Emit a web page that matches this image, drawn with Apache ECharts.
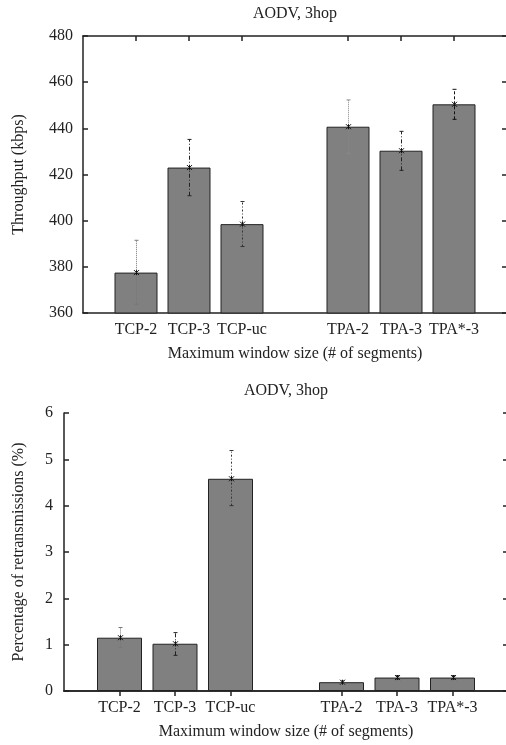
<!DOCTYPE html>
<html>
<head>
<meta charset="utf-8">
<script src="https://cdn.jsdelivr.net/npm/echarts@6/dist/echarts.min.js"></script>
<style>
html, body { margin: 0; padding: 0; background: #fff; }
#chart { width: 506px; height: 745px; }
</style>
</head>
<body>
<div id="chart"></div>
<script>
// bar labels, two groups of three
const labels = ['TCP-2', 'TCP-3', 'TCP-uc', 'TPA-2', 'TPA-3', 'TPA*-3']
// throughput (kbps) with error range
const throughput = [377.5, 423.0, 398.5, 440.7, 430.3, 450.4]
const throughputLow = [363.8, 410.8, 388.8, 429.2, 421.8, 443.9]
const throughputHigh = [391.5, 435.2, 408.3, 452.3, 438.7, 456.9]
// retransmissions (%) with error range
const retrans = [1.15, 1.02, 4.58, 0.19, 0.29, 0.29]
const retransLow = [0.94, 0.77, 4.00, 0.16, 0.26, 0.26]
const retransHigh = [1.37, 1.26, 5.19, 0.22, 0.33, 0.33]
// y tick labels
const throughputTicks = [360, 380, 400, 420, 440, 460, 480]
const retransTicks = [0, 1, 2, 3, 4, 5, 6]

const groupSize = 3
// put an empty slot at both ends and between the groups
function toSlots (arr, blank) {
  let out = [blank]
  arr.forEach((v, i) => {
    if (i === groupSize) out.push(blank)
    out.push(v)
  })
  out.push(blank)
  return out
}
const slotIndex = i => i + 1 + (i >= groupSize ? 1 : 0)
const categories = toSlots(labels, '')

// gnuplot-ish line types for the error bars
const errStyles = [
  { color: '#777', dash: [1, 1] },
  { color: '#222', dash: [4, 2, 1, 2] },
  { color: '#333', dash: [2, 2, 1, 2] },
  { color: '#888', dash: [1, 1] },
  { color: '#222', dash: [4, 2, 1, 2] },
  { color: '#111', dash: [3, 2] }
]

const font = 'Liberation Serif'
const txt = { fontFamily: font, fontSize: 16, color: '#222' }
const lineStyle = { color: '#222', width: 1.5 }

function renderErr (params, api) {
  let x = api.value(0)
  let lo = api.coord([x, api.value(1)])
  let hi = api.coord([x, api.value(2)])
  let mid = api.coord([x, api.value(3)])
  let st = errStyles[api.value(4)]
  let cx = Math.round(lo[0]) + 0.5
  let cap = 2
  let s = 2.5
  let solid = { stroke: st.color, lineWidth: 1 }
  return {
    type: 'group',
    children: [
      { type: 'line', shape: { x1: cx, y1: lo[1], x2: cx, y2: hi[1] },
        style: { stroke: st.color, lineWidth: 1, lineDash: st.dash } },
      { type: 'line', shape: { x1: cx - cap, y1: hi[1], x2: cx + cap, y2: hi[1] }, style: solid },
      { type: 'line', shape: { x1: cx - cap, y1: lo[1], x2: cx + cap, y2: lo[1] }, style: solid },
      { type: 'line', shape: { x1: cx - s, y1: mid[1] - s, x2: cx + s, y2: mid[1] + s }, style: { stroke: '#111', lineWidth: 1 } },
      { type: 'line', shape: { x1: cx - s, y1: mid[1] + s, x2: cx + s, y2: mid[1] - s }, style: { stroke: '#111', lineWidth: 1 } },
      { type: 'line', shape: { x1: cx, y1: mid[1] - s, x2: cx, y2: mid[1] + s }, style: { stroke: '#111', lineWidth: 1 } }
    ]
  }
}

function errData (vals, lows, highs) {
  return vals.map((v, i) => [slotIndex(i), lows[i], highs[i], v, i])
}

function xAxes (gridIndex, title) {
  let tick = { show: true, inside: true, length: 5, lineStyle: lineStyle, interval: (idx, val) => val !== '' }
  return [
    {
      gridIndex: gridIndex, type: 'category', position: 'bottom', data: categories, boundaryGap: false,
      axisLine: { lineStyle: lineStyle }, axisTick: tick,
      axisLabel: Object.assign({ margin: 9, interval: 0 }, txt),
      name: 'Maximum window size (# of segments)', nameLocation: 'middle', nameGap: 33, nameTextStyle: txt
    },
    {
      gridIndex: gridIndex, type: 'category', position: 'top', data: categories, boundaryGap: false,
      axisLine: { lineStyle: lineStyle }, axisTick: tick, axisLabel: { show: false },
      name: title, nameLocation: 'middle', nameGap: 14, nameTextStyle: txt
    }
  ]
}

function yAxes (gridIndex, ticks, name, gap, margin) {
  let base = {
    gridIndex: gridIndex, type: 'value',
    min: ticks[0], max: ticks[ticks.length - 1], interval: ticks[1] - ticks[0],
    axisLine: { show: true, lineStyle: lineStyle },
    axisTick: { show: true, inside: true, length: 5, lineStyle: lineStyle },
    splitLine: { show: false }
  }
  return [
    Object.assign({}, base, {
      position: 'left',
      axisLabel: Object.assign({ margin: margin }, txt),
      name: name, nameLocation: 'middle', nameGap: gap, nameTextStyle: txt
    }),
    Object.assign({}, base, { position: 'right', axisLabel: { show: false } })
  ]
}

let myChart = echarts.init(document.getElementById('chart'))
myChart.setOption({
  animation: false,
  backgroundColor: '#fff',
  textStyle: { fontFamily: font },
  // right border sits just past the canvas edge, as in the original
  grid: [
    { left: 83, top: 36, width: 424, height: 277, containLabel: false, outerBoundsMode: 'none' },
    { left: 64, top: 413, width: 444, height: 278, containLabel: false, outerBoundsMode: 'none' }
  ],
  xAxis: xAxes(0, 'AODV, 3hop').concat(xAxes(1, 'AODV, 3hop')),
  yAxis: yAxes(0, throughputTicks, 'Throughput (kbps)', 56, 10)
    .concat(yAxes(1, retransTicks, 'Percentage of retransmissions (%)', 37, 11)),
  series: [
    {
      type: 'bar', xAxisIndex: 0, yAxisIndex: 0, barWidth: 43,
      data: toSlots(throughput, '-'),
      itemStyle: { color: '#808080', borderColor: '#222', borderWidth: 1 }
    },
    {
      type: 'custom', xAxisIndex: 0, yAxisIndex: 0, z: 5,
      renderItem: renderErr, encode: { x: 0, y: [1, 2] },
      data: errData(throughput, throughputLow, throughputHigh)
    },
    {
      type: 'bar', xAxisIndex: 2, yAxisIndex: 2, barWidth: 45,
      data: toSlots(retrans, '-'),
      itemStyle: { color: '#808080', borderColor: '#222', borderWidth: 1 }
    },
    {
      type: 'custom', xAxisIndex: 2, yAxisIndex: 2, z: 5,
      renderItem: renderErr, encode: { x: 0, y: [1, 2] },
      data: errData(retrans, retransLow, retransHigh)
    }
  ]
})
</script>
</body>
</html>
